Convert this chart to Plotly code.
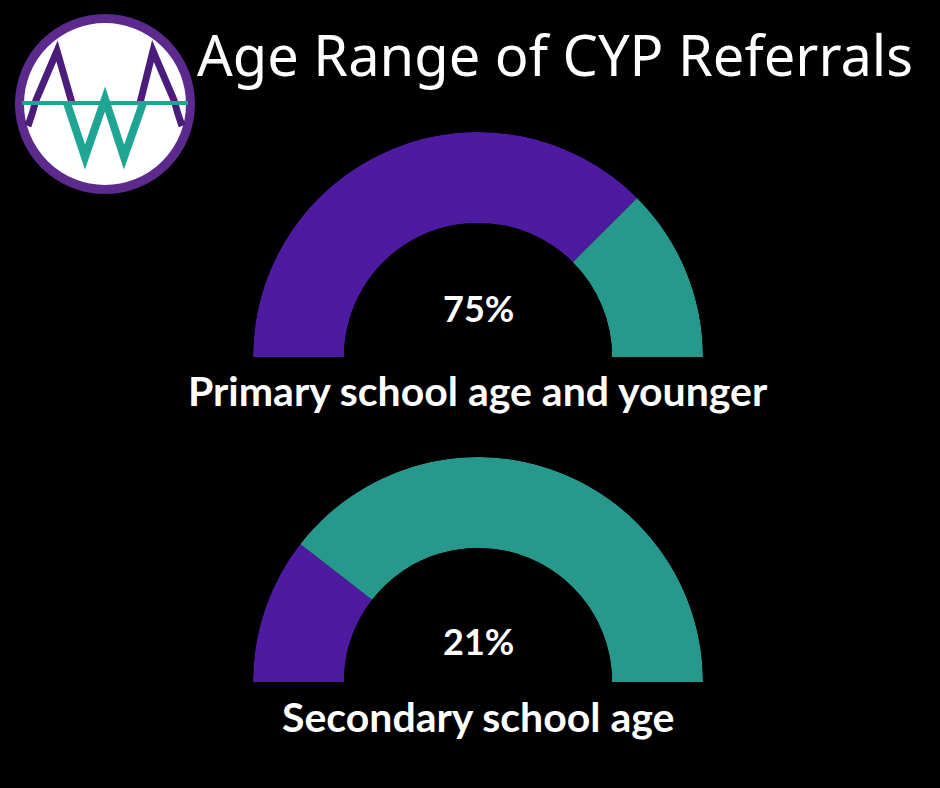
import plotly.graph_objects as go

# ---- data ----
gauge_labels = ["Primary school age and younger", "Secondary school age"]
gauge_pcts = [75, 21]
title_text = "Age Range of CYP Referrals"

PURPLE = "#4E1AA2"
TEAL = "#27998C"

fig = go.Figure()

# polar domains (paper fractions) for the two half-donuts
domains = [
    dict(x=[253 / 940, 703 / 940], y=[1 - 357 / 788, 1 - 132 / 788]),
    dict(x=[253 / 940, 703 / 940], y=[1 - 682 / 788, 1 - 457 / 788]),
]

for i, (lab, pct) in enumerate(zip(gauge_labels, gauge_pcts)):
    pname = "polar" if i == 0 else f"polar{i+1}"
    filled = pct * 180 / 100
    rest = 180 - filled
    fig.add_trace(go.Barpolar(
        r=[1, 1], theta=[filled / 2, filled + rest / 2], width=[filled, rest],
        marker=dict(color=[PURPLE, TEAL], line=dict(width=0)),
        subplot=pname, showlegend=False, hoverinfo="skip",
    ))
    fig.update_layout(**{pname: dict(
        domain=domains[i], sector=[0, 180], hole=0.596, bgcolor="black",
        radialaxis=dict(range=[0, 1], visible=False, showgrid=False),
        angularaxis=dict(visible=False, showgrid=False, direction="clockwise", rotation=180),
        barmode="overlay", bargap=0,
    )})

# hidden pixel-space axes for the logo and text
fig.update_layout(
    xaxis=dict(range=[0, 940], visible=False, fixedrange=True, domain=[0, 1]),
    yaxis=dict(range=[788, 0], visible=False, fixedrange=True, domain=[0, 1]),
)

shapes = []
LOGO_RING = "#5B2A8C"
LOGO_A = "#4A1C7C"
LOGO_W = "#1FA593"
shapes.append(dict(type="circle", xref="x", yref="y", x0=105 - 85.5, x1=105 + 85.5,
                   y0=104 - 85.5, y1=104 + 85.5, fillcolor="white",
                   line=dict(color=LOGO_RING, width=9), layer="above"))
shapes.append(dict(type="path", xref="x", yref="y",
                   path="M 28 126 Q 33 112, 36 100 L 57 51 L 72 103",
                   line=dict(color=LOGO_A, width=7), layer="above"))
shapes.append(dict(type="path", xref="x", yref="y",
                   path="M 140 103 L 153 51 L 174 100 Q 177 112, 182 126",
                   line=dict(color=LOGO_A, width=7), layer="above"))
shapes.append(dict(type="path", xref="x", yref="y",
                   path="M 22 103 L 188 103",
                   line=dict(color=LOGO_W, width=4), layer="above"))
shapes.append(dict(type="path", xref="x", yref="y",
                   path="M 67 103 L 85 157 L 105 99 L 124 157 L 143 103",
                   line=dict(color=LOGO_W, width=8), layer="above"))

annotations = [
    dict(text=title_text, x=555, y=54, xref="x", yref="y", showarrow=False,
         font=dict(family="Noto Sans", size=56, color="white")),
]
pct_y = [308, 641]
lab_y = [390, 716]
for i, (lab, pct) in enumerate(zip(gauge_labels, gauge_pcts)):
    annotations.append(dict(text=f"<b>{pct}%</b>", x=478, y=pct_y[i], xref="x", yref="y",
                            showarrow=False, font=dict(family="Lato", size=36, color="white")))
    annotations.append(dict(text=f"<b>{lab}</b>", x=478, y=lab_y[i], xref="x", yref="y",
                            showarrow=False, font=dict(family="Lato", size=41, color="white")))

fig.update_layout(
    width=940, height=788, margin=dict(l=0, r=0, t=0, b=0),
    paper_bgcolor="black", plot_bgcolor="black",
    shapes=shapes, annotations=annotations, showlegend=False,
)

fig.write_html(
    "out.html",
    config={"displayModeBar": False},
    post_script="document.body.style.margin='0';document.body.style.background='black';"
                "document.body.style.overflow='hidden';",
)
